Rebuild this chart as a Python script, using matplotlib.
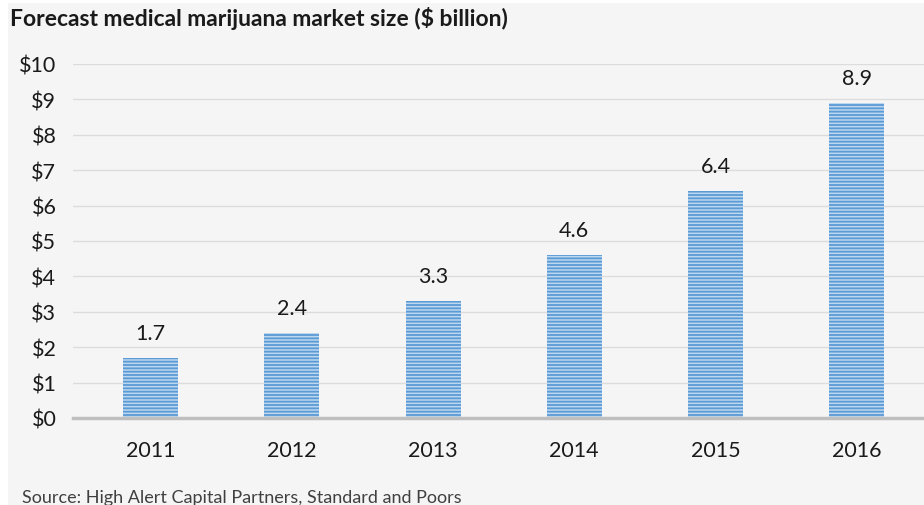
import matplotlib
matplotlib.use("Agg")
import matplotlib.pyplot as plt
from matplotlib.patches import Rectangle

years = ["2011", "2012", "2013", "2014", "2015", "2016"]
values = [1.7, 2.4, 3.3, 4.6, 6.4, 8.9]
ytick_vals = list(range(0, 11))
ytick_labels = ["$" + str(v) for v in ytick_vals]

plt.rcParams['font.family'] = ['Lato', 'DejaVu Sans']
plt.rcParams['hatch.linewidth'] = 1.3

bg = '#f5f5f5'
fig = plt.figure(figsize=(9.24, 5.06), dpi=100, facecolor=bg)
fig.patches.append(Rectangle((0, 0), 8/924, 1, transform=fig.transFigure,
                             facecolor='white', edgecolor='none', zorder=0))
fig.patches.append(Rectangle((0, 1 - 4/506), 1, 4/506, transform=fig.transFigure,
                             facecolor='white', edgecolor='none', zorder=0))

ax = fig.add_axes([73/924, 1 - 419/506, 1 - 73/924 + 0.002, (419 - 65)/506])
ax.set_facecolor(bg)
x = list(range(len(years)))
bars = ax.bar(x, values, width=0.39, color='#bdd7ee', edgecolor='#5b9bd5',
              linewidth=0, hatch='-----', zorder=2)
for xi, v in zip(x, values):
    ax.annotate(f"{v}", (xi, v), xytext=(0, 11), textcoords='offset points',
                ha='center', va='bottom', fontsize=15.5, color='#1a1a1a')

ax.set_xlim(-0.55, 5.49)
ax.set_ylim(0, 10)
ax.set_yticks(ytick_vals)
ax.set_yticklabels(ytick_labels)
ax.set_xticks(x)
ax.set_xticklabels(years)
ax.grid(axis='y', color='#dcdcdc', linewidth=1.0, zorder=0)
ax.set_axisbelow(True)
for s in ['top', 'right', 'left']:
    ax.spines[s].set_visible(False)
ax.spines['bottom'].set_color('#bfbfbf')
ax.spines['bottom'].set_linewidth(2.5)
ax.spines['bottom'].set_zorder(3)
ax.tick_params(axis='both', length=0, labelsize=15.5, colors='#1a1a1a')
ax.tick_params(axis='x', pad=16)
ax.tick_params(axis='y', pad=12)

fig.text(10/924, 1 - 18/506, "Forecast medical marijuana market size ($ billion)",
         fontsize=16.5, fontweight='bold', color='#1a1a1a', va='center', ha='left')
fig.text(22/924, 1 - 498/506, "Source: High Alert Capital Partners, Standard and Poors",
         fontsize=13, color='#404040', va='center', ha='left')

fig.savefig("out.png", dpi=100, facecolor=bg)
